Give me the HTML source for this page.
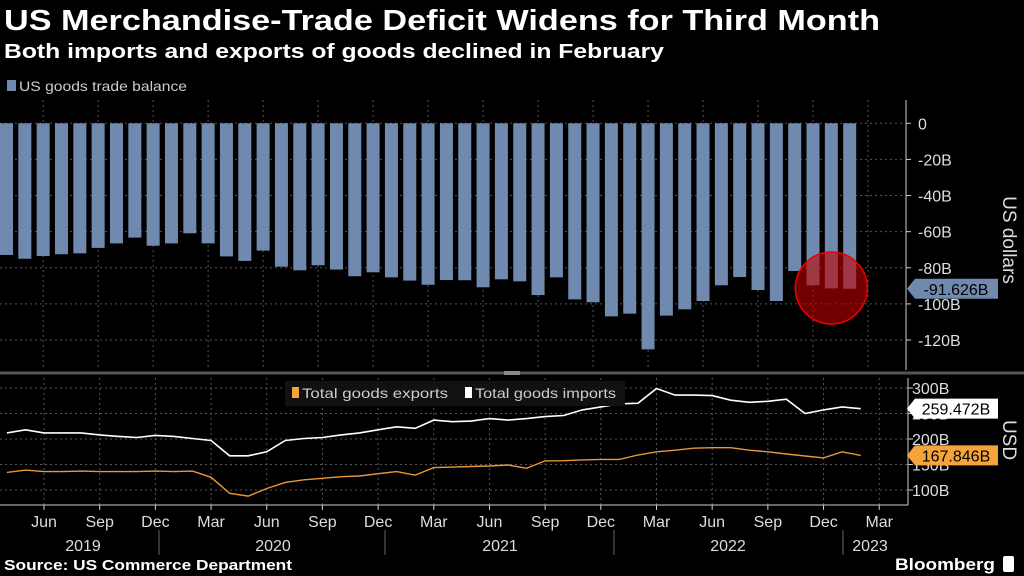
<!DOCTYPE html>
<html><head><meta charset="utf-8"><style>
html,body{margin:0;padding:0;background:#000;}
svg{display:block;font-family:"Liberation Sans",sans-serif;}
</style></head><body>
<svg id="chart" width="1024" height="576" viewBox="0 0 1024 576">
<rect width="1024" height="576" fill="#000"/>
<text x="4" y="30" fill="#fff" font-size="29" font-weight="bold" textLength="876" lengthAdjust="spacingAndGlyphs">US Merchandise-Trade Deficit Widens for Third Month</text>
<text x="4" y="58" fill="#fff" font-size="20" font-weight="bold" textLength="660" lengthAdjust="spacingAndGlyphs">Both imports and exports of goods declined in February</text>
<g>
<rect x="7" y="80" width="9" height="11" fill="#7089ae"/>
<text x="19" y="91" fill="#ccc" font-size="14" textLength="168" lengthAdjust="spacingAndGlyphs">US goods trade balance</text>
</g>
<g id="grid"></g>
<g id="bars"></g>
<g id="lines"></g>
<g id="axes"></g>
<line x1="0" y1="373" x2="1024" y2="373" stroke="#555" stroke-width="3"/>
<rect x="504" y="371" width="16" height="4" fill="#888"/>
<g>
<rect x="285" y="381" width="340" height="25" fill="#111"/>
<rect x="292" y="387" width="7" height="11" fill="#f5a33a"/>
<text x="302" y="398" fill="#ccc" font-size="14" textLength="146" lengthAdjust="spacingAndGlyphs">Total goods exports</text>
<rect x="465" y="387" width="7" height="11" fill="#fff"/>
<text x="475" y="398" fill="#ccc" font-size="14" textLength="141" lengthAdjust="spacingAndGlyphs">Total goods imports</text>
</g>
<text x="4" y="570" fill="#fff" font-size="15" font-weight="bold" textLength="288" lengthAdjust="spacingAndGlyphs">Source: US Commerce Department</text>
<text x="895" y="570" fill="#fff" font-size="17" font-weight="bold" textLength="100" lengthAdjust="spacingAndGlyphs">Bloomberg</text>
<rect x="1003" y="556" width="11" height="16" rx="2" fill="#fff"/>
</svg>
<script>
const balance=[-72.9,-75.0,-73.5,-72.5,-72.0,-69.0,-66.5,-63.3,-67.8,-66.5,-60.9,-66.5,-73.7,-76.2,-70.5,-79.4,-81.4,-78.6,-81.0,-84.7,-82.5,-85.3,-87.1,-89.4,-86.8,-86.9,-90.8,-86.4,-87.5,-95.1,-85.3,-97.5,-99.1,-106.9,-105.4,-125.2,-106.5,-103.0,-98.4,-89.7,-85.1,-92.3,-98.4,-81.8,-89.7,-91.4,-91.626];
const imports=[212,218,212,212,212,208,205,203,207,205,201,197,167,167,175,197,201,203,208,212,218,224,221,237,234,235,240,237,240,244,246,257,263,269,270,299,286,286,285,276,272,274,278,250,257,263,259.472];
const exportsV=[134.6,139,136,136,137,136,136,136,137,136,137,125,93.5,88,103,115,120,123,126,127.5,132,136,129,144,145,146,147,149,142.5,157,157.5,159,160,160,168.6,175,178,182,183,183,178,175,170.6,166.7,163,175,167.846];
const topTicks=[0,-20,-40,-60,-80,-100,-120];
const botTicks=[100,150,200,250,300];
const monthLabels=["Jun","Sep","Dec","Mar","Jun","Sep","Dec","Mar","Jun","Sep","Dec","Mar","Jun","Sep","Dec","Mar"];
const yearLabels=["2019","2020","2021","2022","2023"];
const NS="http://www.w3.org/2000/svg";
function mk(tag,attrs,parent){const e=document.createElementNS(NS,tag);for(const k in attrs)e.setAttribute(k,attrs[k]);parent.appendChild(e);return e;}
const xTop=i=>6.5+i*18.33;
const yTop=v=>123.3-v*1.806;
const xBot=i=>6.9+i*18.56;
const yBot=v=>388+(300-v)*0.51;
const grid=document.getElementById('grid'),bars=document.getElementById('bars'),lines=document.getElementById('lines'),axes=document.getElementById('axes');
// grids
topTicks.forEach(t=>{const l=mk('line',{x1:0,x2:905,y1:yTop(t),y2:yTop(t),stroke:'#555','stroke-dasharray':'2,3'},grid);

});
botTicks.forEach(t=>{const l=mk('line',{x1:0,x2:907,y1:yBot(t),y2:yBot(t),stroke:'#555','stroke-dasharray':'2,3'},grid);

});
for(let i=2;i<48;i+=3){
 const a=mk('line',{x1:xTop(i),x2:xTop(i),y1:100,y2:370,stroke:'#555','stroke-dasharray':'2,3'},grid);
 
 
 const b=mk('line',{x1:xBot(i),x2:xBot(i),y1:378,y2:505,stroke:'#555','stroke-dasharray':'2,3'},grid);
 
 
}
// bars
balance.forEach((v,i)=>{const r=mk('rect',{x:xTop(i)-6.5,y:yTop(0),width:13,height:yTop(v)-yTop(0),fill:'#7089ae'},bars);

});
// highlight circle
const lastX=xTop(balance.length-2);
const c=mk('circle',{cx:lastX,cy:288,r:36,fill:'rgba(190,0,0,0.6)',stroke:'#e00','stroke-width':1.5},bars);


// lines
function path(arr){return arr.map((v,i)=>(i?'L':'M')+xBot(i).toFixed(1)+','+yBot(v).toFixed(1)).join('');}
const pi=mk('path',{d:path(imports),fill:'none',stroke:'#fff','stroke-width':1.6},lines);


const pe=mk('path',{d:path(exportsV),fill:'none',stroke:'#e8963a','stroke-width':1.4},lines);


// axes
mk('line',{x1:906,x2:906,y1:100,y2:370,stroke:'#ccc'},axes);
mk('line',{x1:908,x2:908,y1:378,y2:505,stroke:'#ccc'},axes);
mk('line',{x1:0,x2:908,y1:505,y2:505,stroke:'#ccc'},axes);
topTicks.forEach(t=>{mk('line',{x1:906,x2:911,y1:yTop(t),y2:yTop(t),stroke:'#ccc'},axes);
const tx=mk('text',{x:918,y:yTop(t)+6,fill:'#ddd','font-size':16},axes);tx.textContent=t===0?'0':t+'B';

});
botTicks.forEach(t=>{mk('line',{x1:908,x2:913,y1:yBot(t),y2:yBot(t),stroke:'#ccc'},axes);
const tx=mk('text',{x:912,y:yBot(t)+6,fill:'#ddd','font-size':16},axes);tx.textContent=t+'B';

});
let mi=0;
for(let i=2;i<48;i+=3){mk('line',{x1:xBot(i),x2:xBot(i),y1:505,y2:510,stroke:'#ccc'},axes);
const tx=mk('text',{x:xBot(i),y:527,fill:'#ddd','font-size':16,'text-anchor':'middle'},axes);tx.textContent=monthLabels[mi++];

}
const yearX=[83,273,500,728,870];
[159,385,614,843].forEach(x=>mk('line',{x1:x,x2:x,y1:530,y2:555,stroke:'#666'},axes));
yearLabels.forEach((y,i)=>{const tx=mk('text',{x:yearX[i],y:551,fill:'#ddd','font-size':16,'text-anchor':'middle'},axes);tx.textContent=y;

});
const t1=mk('text',{x:0,y:0,fill:'#ddd','font-size':19,transform:'translate(1003,240) rotate(90)','text-anchor':'middle'},axes);t1.textContent='US dollars';


const t2=mk('text',{x:0,y:0,fill:'#ddd','font-size':19,transform:'translate(1003,440) rotate(90)','text-anchor':'middle'},axes);t2.textContent='USD';


// value labels
function tag(y,bg,fg,txt,name){const g=mk('g',{},axes);


mk('path',{d:`M907,${y} L915,${y-10} L998,${y-10} L998,${y+10} L915,${y+10} Z`,fill:bg},g);
const t=mk('text',{x:956,y:y+6,fill:fg,'font-size':16,'text-anchor':'middle'},g);t.textContent=txt;}
tag(yTop(balance[balance.length-1]),'#7089ae','#000',balance[balance.length-1].toFixed(3)+'B','balance-value-label');
tag(yBot(imports[imports.length-1]),'#fff','#000',imports[imports.length-1].toFixed(3)+'B','imports-value-label');
tag(yBot(exportsV[exportsV.length-1]),'#f5a33a','#000',exportsV[exportsV.length-1].toFixed(3)+'B','exports-value-label');
</script>
</body></html>
